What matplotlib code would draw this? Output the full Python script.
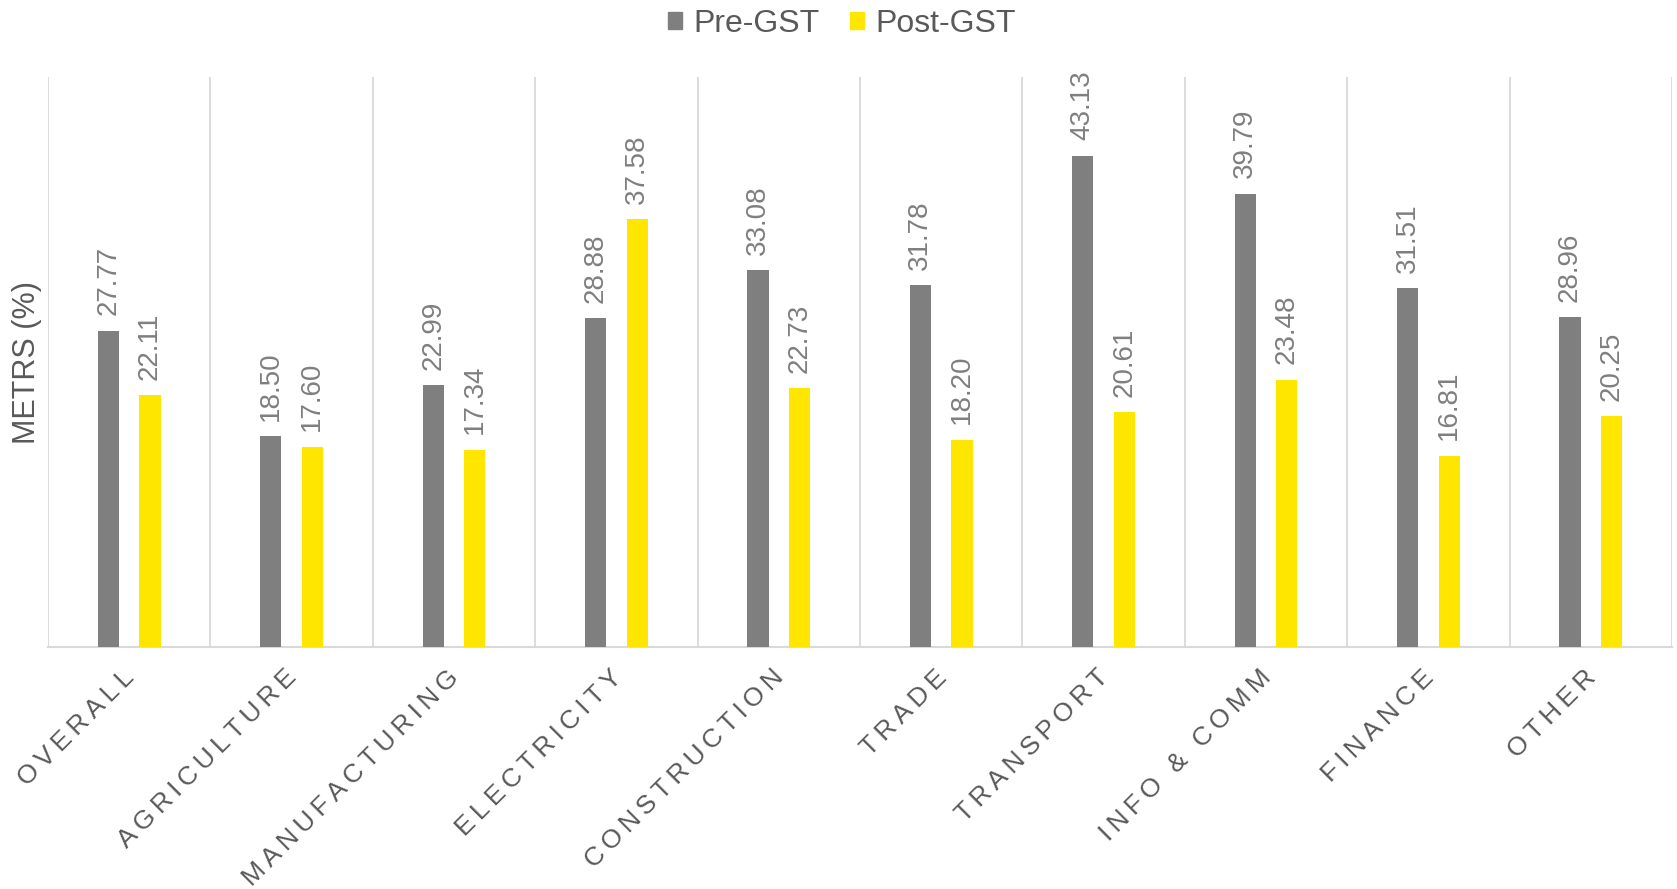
import matplotlib
matplotlib.use("Agg")
import matplotlib.pyplot as plt
from matplotlib.patches import Patch
from matplotlib.transforms import ScaledTranslation
import numpy as np

sectors = ["OVERALL", "AGRICULTURE", "MANUFACTURING", "ELECTRICITY", "CONSTRUCTION",
           "TRADE", "TRANSPORT", "INFO & COMM", "FINANCE", "OTHER"]
pre_gst = [27.77, 18.50, 22.99, 28.88, 33.08, 31.78, 43.13, 39.79, 31.51, 28.96]
post_gst = [22.11, 17.60, 17.34, 37.58, 22.73, 18.20, 20.61, 23.48, 16.81, 20.25]

GREY = "#7f7f7f"
YELLOW = "#ffe600"
TEXT = "#595959"
GRID = "#d9d9d9"

plt.rcParams["font.family"] = ["Liberation Sans", "DejaVu Sans"]


def spaced(s):
    # widen the category captions with thin spaces between letters
    return "\u2009".join(s)


fig = plt.figure(figsize=(16.77, 8.89), dpi=100)
ax = fig.add_axes([0.0286, 0.272, 0.9684, 0.641])

x = np.arange(len(sectors))
w = 0.13
off = 0.128
b1 = ax.bar(x - off, pre_gst, w, color=GREY, label="Pre-GST", zorder=3)
b2 = ax.bar(x + off, post_gst, w, color=YELLOW, label="Post-GST", zorder=3)

for bars, vals in ((b1, pre_gst), (b2, post_gst)):
    for rect, v in zip(bars, vals):
        ax.annotate(f"{v:.2f}", (rect.get_x() + rect.get_width() / 2, v),
                    xytext=(0, 11), textcoords="offset points",
                    rotation=90, ha="center", va="bottom",
                    fontsize=20, color=GREY)

ax.set_xlim(-0.5, len(sectors) - 0.5)
ax.set_ylim(0, 50)
for b in np.arange(-0.5, len(sectors), 1.0):
    ax.axvline(b, color=GRID, lw=1.3, zorder=1)

for s in ("top", "right", "left"):
    ax.spines[s].set_visible(False)
ax.spines["bottom"].set_color(GRID)
ax.spines["bottom"].set_linewidth(1.5)
ax.set_yticks([])

ax.set_xticks(x)
ax.set_xticklabels([spaced(s) for s in sectors], rotation=45, ha="right", va="top",
                   rotation_mode="anchor", fontsize=19, color=TEXT)
ax.tick_params(axis="x", length=0, pad=13)
shift = ScaledTranslation(-7 / 100, 0, fig.dpi_scale_trans)
for lbl in ax.get_xticklabels():
    lbl.set_transform(lbl.get_transform() + shift)

ax.set_ylabel("METRS (%)", fontsize=22, color=TEXT, labelpad=4)

handles = [Patch(color=GREY, label="Pre-GST"), Patch(color=YELLOW, label="Post-GST")]
fig.legend(handles=handles, loc="upper center", bbox_to_anchor=(0.502, 1.022), ncol=2,
           frameon=False, fontsize=23, handlelength=0.45, handleheight=0.45,
           handletextpad=0.35, columnspacing=0.95, labelcolor=TEXT)

fig.savefig("out.png", dpi=100, facecolor="white")
